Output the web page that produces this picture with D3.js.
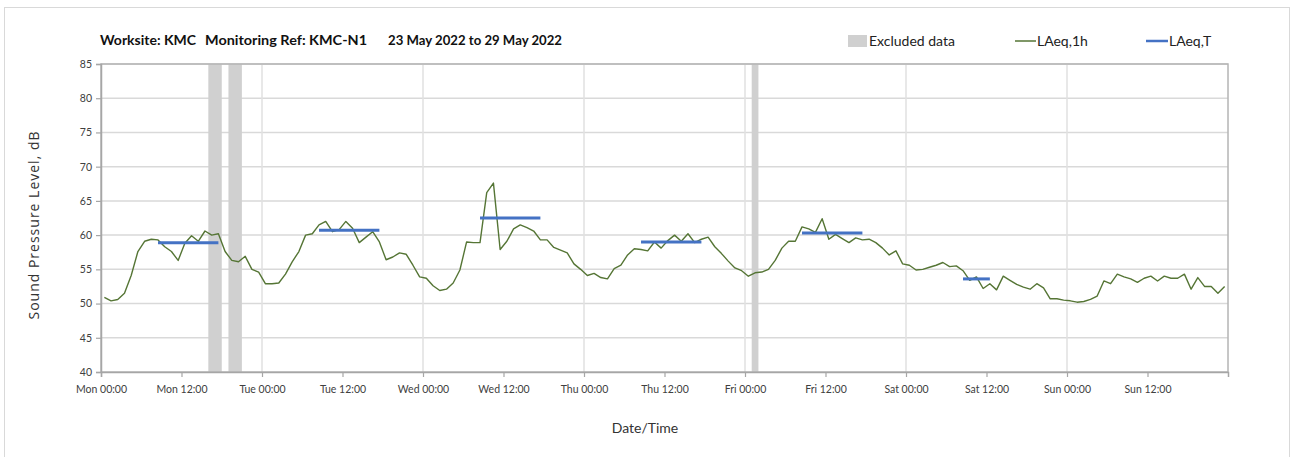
<!DOCTYPE html>
<html><head><meta charset="utf-8">
<script src="https://cdn.jsdelivr.net/npm/d3@7"></script>
<style>
html,body{margin:0;padding:0;background:#fff;}
svg{display:block;font-family:Lato,"Open Sans",sans-serif;}
</style></head>
<body><svg id="chart" width="1301" height="457"></svg>
<script>
// ---- data ----
const startTime = "2022-05-23T00:00:00Z";
const endTime = "2022-05-30T00:00:00Z";
// hourly LAeq,1h values, plotted at the middle of each hour (Mon 00:30 ... Sun 23:30)
const laeq1h = [
 50.9,50.4,50.6,51.5,54.1,57.6,59.1,59.4,59.3,58.3,57.6,56.3,58.8,59.9,59.1,60.6,60.0,60.2,57.6,56.3,56.1,56.9,55.0,54.6,
 52.9,52.9,53.0,54.3,56.1,57.6,60.0,60.2,61.5,62.0,60.5,60.8,62.0,61.0,58.9,59.7,60.5,59.0,56.4,56.8,57.4,57.2,55.6,53.9,
 53.7,52.6,51.9,52.1,53.0,54.9,59.0,58.9,58.9,66.2,67.6,57.9,59.1,60.9,61.5,61.1,60.6,59.3,59.3,58.2,57.8,57.4,55.8,55.0,
 54.1,54.4,53.8,53.6,55.1,55.6,57.1,58.0,57.9,57.7,59.0,58.1,59.2,60.0,59.1,60.2,58.9,59.4,59.7,58.3,57.3,56.2,55.2,54.8,
 54.0,54.5,54.6,55.0,56.3,58.1,59.1,59.1,61.2,60.9,60.4,62.4,59.4,60.1,59.5,58.9,59.6,59.3,59.4,58.9,58.1,57.1,57.7,55.8,
 55.6,54.9,55.0,55.3,55.6,56.0,55.4,55.5,54.8,53.4,53.9,52.2,52.9,52.0,54.0,53.4,52.8,52.4,52.1,52.9,52.3,50.7,50.7,50.5,
 50.4,50.2,50.3,50.6,51.1,53.3,52.9,54.3,53.9,53.6,53.1,53.7,54.0,53.3,54.0,53.7,53.7,54.3,52.1,53.8,52.5,52.5,51.5,52.5
];
const periodStart = ["2022-05-23T08:30Z","2022-05-24T08:30Z","2022-05-25T08:30Z","2022-05-26T08:30Z","2022-05-27T08:30Z","2022-05-28T08:30Z"];
const periodEnd   = ["2022-05-23T17:30Z","2022-05-24T17:30Z","2022-05-25T17:30Z","2022-05-26T17:30Z","2022-05-27T17:30Z","2022-05-28T12:30Z"];
const laeqT       = [58.9, 60.7, 62.5, 59.0, 60.3, 53.6];
const excludedStart = ["2022-05-23T16:00Z","2022-05-23T19:00Z","2022-05-27T01:00Z"];
const excludedEnd   = ["2022-05-23T18:00Z","2022-05-23T21:00Z","2022-05-27T02:00Z"];
const yTicks = [40,45,50,55,60,65,70,75,80,85];
const xTickLabels = ["Mon 00:00","Mon 12:00","Tue 00:00","Tue 12:00","Wed 00:00","Wed 12:00","Thu 00:00","Thu 12:00","Fri 00:00","Fri 12:00","Sat 00:00","Sat 12:00","Sun 00:00","Sun 12:00"];
const titleParts = ["Worksite: KMC","Monitoring Ref: KMC-N1","23 May 2022 to 29 May 2022"];
const legendLabels = ["Excluded data","LAeq,1h","LAeq,T"];

// ---- layout ----
const svg = d3.select("#chart");
const L = 101, R = 1228, T = 64, B = 372;
const t0 = new Date(startTime), t1 = new Date(endTime);
const x = d3.scaleUtc().domain([t0, t1]).range([L, R]);
const y = d3.scaleLinear().domain([40, 85]).range([B, T]);
const HOUR = 3600e3;
const times = laeq1h.map((v, i) => new Date(t0.getTime() + (i + 0.5) * HOUR));
const tickTimes = xTickLabels.map((s, i) => new Date(t0.getTime() + i * 12 * HOUR));
const dayTimes = d3.utcDay.range(new Date(t0.getTime() + 1), t1);

// outer frame
svg.append("rect").attr("x", 4.5).attr("y", 7.5).attr("width", 1285).attr("height", 460)
  .attr("fill", "none").attr("stroke", "#d9d9d9").attr("stroke-width", 1);

// gridlines
svg.append("g").selectAll("line").data(yTicks.filter(d => d > 40)).join("line")
  .attr("x1", L).attr("x2", R).attr("y1", d => y(d)).attr("y2", d => y(d))
  .attr("stroke", "#d9d9d9").attr("stroke-width", 1.5);
svg.append("g").selectAll("line").data(dayTimes).join("line")
  .attr("x1", d => x(d)).attr("x2", d => x(d)).attr("y1", T).attr("y2", B)
  .attr("stroke", "#e0e0e0").attr("stroke-width", 1.5);

// excluded bands
svg.append("g").selectAll("rect").data(excludedStart).join("rect")
  .attr("x", (d) => x(new Date(d)))
  .attr("width", (d, i) => x(new Date(excludedEnd[i])) - x(new Date(d)))
  .attr("y", T).attr("height", B - T).attr("fill", "#d0d0d0");

// plot border
svg.append("rect").attr("x", L).attr("y", T).attr("width", R - L).attr("height", B - T)
  .attr("fill", "none").attr("stroke", "#b4b4b4").attr("stroke-width", 1.5);

// axes
const yAxis = svg.append("g").attr("transform", `translate(${L},0)`)
  .call(d3.axisLeft(y).tickValues(yTicks).tickSize(5).tickPadding(4));
const xAxis = svg.append("g").attr("transform", `translate(0,${B})`)
  .call(d3.axisBottom(x).tickValues(tickTimes).tickSize(5).tickPadding(9)
    .tickFormat((d, i) => xTickLabels[i]));
[yAxis, xAxis].forEach(g => {
  g.select(".domain").attr("stroke", "#a6a6a6").attr("stroke-width", 1.5);
  g.selectAll(".tick line").attr("stroke", "#a6a6a6").attr("stroke-width", 1.2);
  g.selectAll("text").attr("fill", "#404040").style("font-size", "10.5px")
    .style("font-family", "Lato, 'Open Sans', sans-serif");
});

// LAeq,1h line
svg.append("path").datum(laeq1h)
  .attr("fill", "none").attr("stroke", "#557535").attr("stroke-width", 1.4)
  .attr("stroke-linejoin", "round")
  .attr("d", d3.line().x((d, i) => x(times[i])).y(d => y(d)));

// LAeq,T segments
svg.append("g").selectAll("line").data(laeqT).join("line")
  .attr("x1", (d, i) => x(new Date(periodStart[i])))
  .attr("x2", (d, i) => x(new Date(periodEnd[i])))
  .attr("y1", d => y(d)).attr("y2", d => y(d))
  .attr("stroke", "#4472c4").attr("stroke-width", 3);

// title
const titleX = [100, 205, 388];
const titleW = [96, 162, 174];
svg.append("g").selectAll("text").data(titleParts).join("text")
  .attr("x", (d, i) => titleX[i]).attr("y", 45)
  .attr("font-weight", "bold").attr("font-size", 14).attr("fill", "#111")
  .attr("textLength", (d, i) => titleW[i]).attr("lengthAdjust", "spacingAndGlyphs")
  .text(d => d);

// legend
const lg = svg.append("g").attr("font-size", 14).attr("fill", "#222");
lg.append("rect").attr("x", 848).attr("y", 35).attr("width", 19).attr("height", 12).attr("fill", "#d0d0d0");
lg.append("text").attr("x", 869).attr("y", 46).text(legendLabels[0]);
lg.append("line").attr("x1", 1015).attr("x2", 1036).attr("y1", 41).attr("y2", 41)
  .attr("stroke", "#557535").attr("stroke-width", 1.5);
lg.append("text").attr("x", 1037).attr("y", 46).text(legendLabels[1]);
lg.append("line").attr("x1", 1146).attr("x2", 1168).attr("y1", 41).attr("y2", 41)
  .attr("stroke", "#4472c4").attr("stroke-width", 2.5);
lg.append("text").attr("x", 1169).attr("y", 46).text(legendLabels[2]);

// axis titles
svg.append("text").attr("transform", "translate(39,225) rotate(-90)")
  .attr("text-anchor", "middle").attr("font-size", 14).attr("fill", "#333")
  .style("font-family", "'Open Sans', sans-serif").attr("letter-spacing", 1)
  .text("Sound Pressure Level, dB");
svg.append("text").attr("x", 645).attr("y", 433).attr("text-anchor", "middle")
  .attr("font-size", 14).attr("fill", "#333").text("Date/Time");
</script>
</body></html>
